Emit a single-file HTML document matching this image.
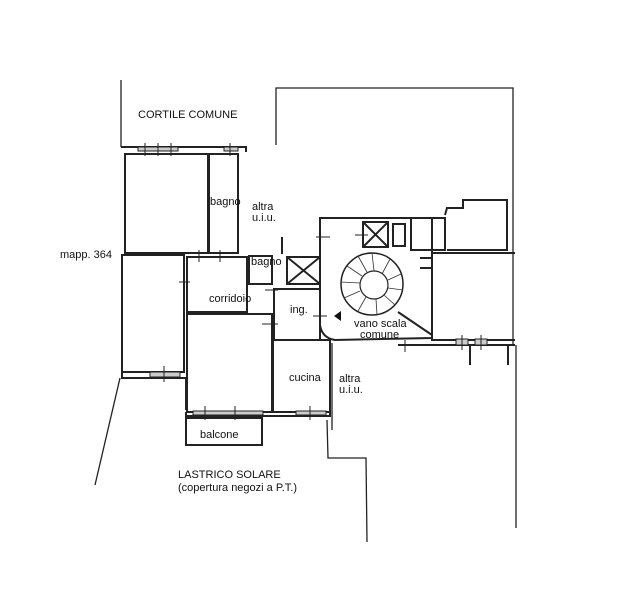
<!DOCTYPE html>
<html><head><style>
html,body{margin:0;padding:0;background:#fff;}
svg{display:block;}
text{font-family:"Liberation Sans",sans-serif;fill:#111;}
</style></head><body>
<svg width="640" height="600" viewBox="0 0 640 600" xmlns="http://www.w3.org/2000/svg">
<g fill="none" stroke="#222" stroke-width="1.3">
<polyline points="121,80 121,147"/>
<polyline points="276,145 276,88 513,88 513,205"/>
<polyline points="513,205 513,345"/>
<polyline points="516,345 516,528"/>
<polyline points="120,378 95,485"/>
<polyline points="327,420 328,458 366,458 367,542"/>
<polyline points="332,343 332,430"/>
</g>
<g fill="none" stroke="#222" stroke-width="2">
<polyline points="121,147 246,147 246,152"/>
<rect x="125" y="154" width="83" height="99"/>
<rect x="209" y="154" width="29" height="99"/>
<rect x="122" y="255" width="62" height="117"/>
<polyline points="122,372 122,378 150,378 186,378 186,410"/>
<rect x="187" y="257" width="60" height="55"/>
<rect x="187" y="314" width="85" height="98"/>
<rect x="249" y="256" width="23" height="28"/>
<rect x="287" y="257" width="33" height="27"/>
<rect x="274" y="289" width="46" height="51"/>
<rect x="273" y="340" width="57" height="72"/>
<polyline points="186,412 186,416 330,416 330,413"/>
<rect x="186" y="418" width="76" height="27"/>
<path d="M320,218 L432,218 L432,338 L335,340 Q322,338 320,325 Z"/>
<rect x="411" y="218" width="34" height="32"/>
<polyline points="445,215 447,208 463,208 463,200 507,200 507,250 447,250"/>
<rect x="363" y="222" width="25" height="25"/>
<line x1="363" y1="222" x2="388" y2="247"/><line x1="388" y1="222" x2="363" y2="247"/>
<line x1="287" y1="257" x2="320" y2="284"/><line x1="320" y1="257" x2="287" y2="284"/>
<rect x="393" y="224" width="12" height="22"/>
<polyline points="432,253 515,253"/>
<polyline points="432,253 432,340 515,340"/>
<polyline points="420,258 432,258 432,268 420,268 Z"/>
<line x1="398" y1="312" x2="432" y2="335"/>
<polyline points="398,345 515,345"/>
<line x1="470" y1="345" x2="470" y2="365"/>
<line x1="508" y1="345" x2="508" y2="365"/>
<line x1="282" y1="237" x2="282" y2="254"/>
</g>
<!-- window marks -->
<g stroke="#222" stroke-width="1">
<rect x="138" y="147" width="40" height="4" fill="#ccc"/>
<line x1="145" y1="143" x2="145" y2="156"/><line x1="158" y1="143" x2="158" y2="156"/><line x1="171" y1="143" x2="171" y2="156"/>
<rect x="224" y="147" width="14" height="4" fill="#ccc"/><line x1="230" y1="143" x2="230" y2="156"/>
<rect x="150" y="372" width="30" height="5" fill="#ccc"/><line x1="164" y1="366" x2="164" y2="382"/>
<rect x="193" y="411" width="70" height="4" fill="#ccc"/><line x1="205" y1="406" x2="205" y2="420"/><line x1="235" y1="406" x2="235" y2="420"/>
<rect x="296" y="411" width="30" height="4" fill="#ccc"/><line x1="310" y1="406" x2="310" y2="420"/>
<rect x="456" y="339" width="12" height="6" fill="#ccc"/><rect x="475" y="339" width="12" height="6" fill="#ccc"/>
<line x1="462" y1="335" x2="462" y2="350"/><line x1="481" y1="335" x2="481" y2="350"/>
<line x1="179" y1="282" x2="190" y2="282"/><line x1="199" y1="250" x2="199" y2="262"/><line x1="220" y1="250" x2="220" y2="262"/>
<line x1="265" y1="290" x2="278" y2="290"/><line x1="262" y1="324" x2="278" y2="324"/><line x1="316" y1="237" x2="330" y2="237"/>
<line x1="355" y1="235" x2="368" y2="235"/><line x1="313" y1="316" x2="327" y2="316"/><line x1="405" y1="340" x2="405" y2="352"/>
</g>
<circle cx="372" cy="284" r="31" fill="none" stroke="#222" stroke-width="1.5"/>
<circle cx="374" cy="285" r="14" fill="none" stroke="#222" stroke-width="1.2"/>
<g stroke="#333" stroke-width="0.8">
<line x1="372" y1="253" x2="374" y2="271"/><line x1="390" y1="259" x2="382" y2="274"/>
<line x1="401" y1="274" x2="388" y2="280"/><line x1="403" y1="290" x2="388" y2="288"/>
<line x1="395" y1="305" x2="384" y2="295"/><line x1="377" y1="315" x2="376" y2="299"/>
<line x1="358" y1="311" x2="366" y2="297"/><line x1="344" y1="298" x2="360" y2="291"/>
<line x1="341" y1="282" x2="360" y2="283"/><line x1="347" y1="266" x2="362" y2="276"/>
<line x1="358" y1="256" x2="367" y2="272"/>
</g>
<polygon points="334,316 341,311 341,321" fill="#111"/>
<g font-size="11">
<text x="138" y="118">CORTILE COMUNE</text>
<text x="60" y="258">mapp. 364</text>
<text x="210" y="205">bagno</text>
<text x="252" y="210">altra</text>
<text x="252" y="221">u.i.u.</text>
<text x="251" y="265">bagno</text>
<text x="209" y="302">corridoio</text>
<text x="290" y="313">ing.</text>
<text x="354" y="327">vano scala</text>
<text x="360" y="338">comune</text>
<text x="289" y="381">cucina</text>
<text x="339" y="382">altra</text>
<text x="339" y="393">u.i.u.</text>
<text x="200" y="438">balcone</text>
<text x="178" y="478">LASTRICO SOLARE</text>
<text x="178" y="491">(copertura negozi a P.T.)</text>
</g>
</svg>
</body></html>
